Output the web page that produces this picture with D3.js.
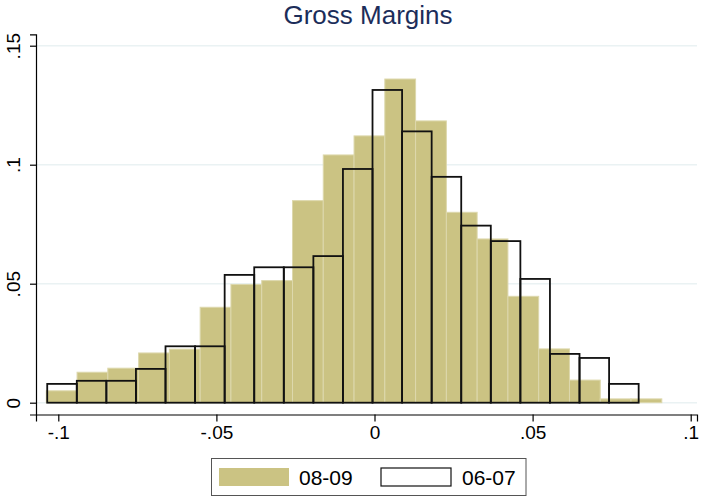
<!DOCTYPE html>
<html>
<head>
<meta charset="utf-8">
<script src="https://cdn.jsdelivr.net/npm/d3@7"></script>
<style>
  body { margin: 0; background: #fff; }
  svg { display: block; font-family: "Liberation Sans", Arial, sans-serif; }
</style>
</head>
<body>
<div id="chart"></div>
<script>
// histogram densities
var bins0809 = [0.0050, 0.0128, 0.0145, 0.0209, 0.0225, 0.0401, 0.0497, 0.0513, 0.0849, 0.1041,
                0.1121, 0.1360, 0.1184, 0.0800, 0.0688, 0.0447, 0.0226, 0.0095, 0.0016, 0.0016];
var start0809 = -0.1038, width0809 = 0.009733;

var bins0607 = [0.0079, 0.0092, 0.0092, 0.0142, 0.0237, 0.0237, 0.0537, 0.0569, 0.0569, 0.0616,
                0.0982, 0.1314, 0.1140, 0.0949, 0.0744, 0.0679, 0.0520, 0.0205, 0.0188, 0.0079];
var start0607 = -0.1035, width0607 = 0.009352;

var xTicks = [-0.1, -0.05, 0, 0.05, 0.1];
var xTickLabels = ["-.1", "-.05", "0", ".05", ".1"];
var yTicks = [0, 0.05, 0.1, 0.15];
var yTickLabels = ["0", ".05", ".1", ".15"];
var seriesNames = ["08-09", "06-07"];
var title = "Gross Margins";

var W = 701, H = 496;
var khaki = "#cbc383";

var svg = d3.select("#chart").append("svg")
	.attr("width", W)
	.attr("height", H);

var x = d3.scaleLinear().domain([-0.10705, 0.10199]).range([36, 697]);
var y = d3.scaleLinear().domain([-0.00496, 0.15479]).range([414.5, 34.3]);

// gridlines
svg.append("g").selectAll("line")
	.data(yTicks)
	.enter().append("line")
	.attr("x1", x.range()[0]).attr("x2", x.range()[1])
	.attr("y1", function(d){ return y(d); })
	.attr("y2", function(d){ return y(d); })
	.attr("stroke", "#eaf2f3")
	.attr("stroke-width", 1.5);

// 08-09 filled bars
svg.append("g").selectAll("rect")
	.data(bins0809)
	.enter().append("rect")
	.attr("x", function(d, i){ return x(start0809 + i*width0809); })
	.attr("width", function(d, i){ return x(start0809 + (i+1)*width0809) - x(start0809 + i*width0809); })
	.attr("y", function(d){ return y(d); })
	.attr("height", function(d){ return y(0) - y(d); })
	.attr("fill", khaki)
	.attr("stroke", "#ddd8ad")
	.attr("stroke-width", 1);

// 06-07 outline bars
svg.append("g").selectAll("rect")
	.data(bins0607)
	.enter().append("rect")
	.attr("x", function(d, i){ return x(start0607 + i*width0607); })
	.attr("width", function(d, i){ return x(start0607 + (i+1)*width0607) - x(start0607 + i*width0607); })
	.attr("y", function(d){ return y(d); })
	.attr("height", function(d){ return y(0) - y(d); })
	.attr("fill", "none")
	.attr("stroke", "#111")
	.attr("stroke-width", 1.8);

// axes
var xAxis = d3.axisBottom(x).tickValues(xTicks).tickSize(7).tickPadding(4)
	.tickFormat(function(d, i){ return xTickLabels[i]; });
var gx = svg.append("g").attr("transform", "translate(0," + y.range()[0] + ")").call(xAxis);
gx.select(".domain").attr("stroke", "#000").attr("stroke-width", 1.2);
gx.selectAll(".tick line").attr("stroke", "#000").attr("stroke-width", 1.2);
gx.selectAll(".tick text").attr("font-size", 19).attr("fill", "#000")
	.attr("font-family", "Liberation Sans, Arial, sans-serif");

var yAxis = d3.axisLeft(y).tickValues(yTicks).tickSize(6)
	.tickFormat(function(d, i){ return yTickLabels[i]; });
var gy = svg.append("g").attr("transform", "translate(" + x.range()[0] + ",0)").call(yAxis);
gy.select(".domain").attr("stroke", "#000").attr("stroke-width", 1.2);
gy.selectAll(".tick line").attr("stroke", "#000").attr("stroke-width", 1.2);
gy.selectAll(".tick text")
	.attr("font-size", 19).attr("fill", "#000")
	.attr("font-family", "Liberation Sans, Arial, sans-serif")
	.attr("text-anchor", "middle")
	.attr("dy", 0)
	.attr("x", 0)
	.attr("transform", "translate(-16.5,0) rotate(-90)");

// title
svg.append("text")
	.attr("x", 368)
	.attr("y", 24)
	.attr("text-anchor", "middle")
	.attr("font-size", 26)
	.attr("fill", "#1c2d5a")
	.text(title);

// legend
var lg = svg.append("g");
lg.append("rect")
	.attr("x", 211.5).attr("y", 458.5).attr("width", 314.5).attr("height", 37)
	.attr("fill", "#fff").attr("stroke", "#555").attr("stroke-width", 1);
lg.append("rect")
	.attr("x", 219).attr("y", 468).attr("width", 70).attr("height", 18)
	.attr("fill", khaki);
lg.append("text").attr("x", 299).attr("y", 485).attr("font-size", 21).text(seriesNames[0]);
lg.append("rect")
	.attr("x", 381).attr("y", 468).attr("width", 70).attr("height", 18)
	.attr("fill", "#fff").attr("stroke", "#111").attr("stroke-width", 1.2);
lg.append("text").attr("x", 462).attr("y", 485).attr("font-size", 21).text(seriesNames[1]);
</script>
</body>
</html>
